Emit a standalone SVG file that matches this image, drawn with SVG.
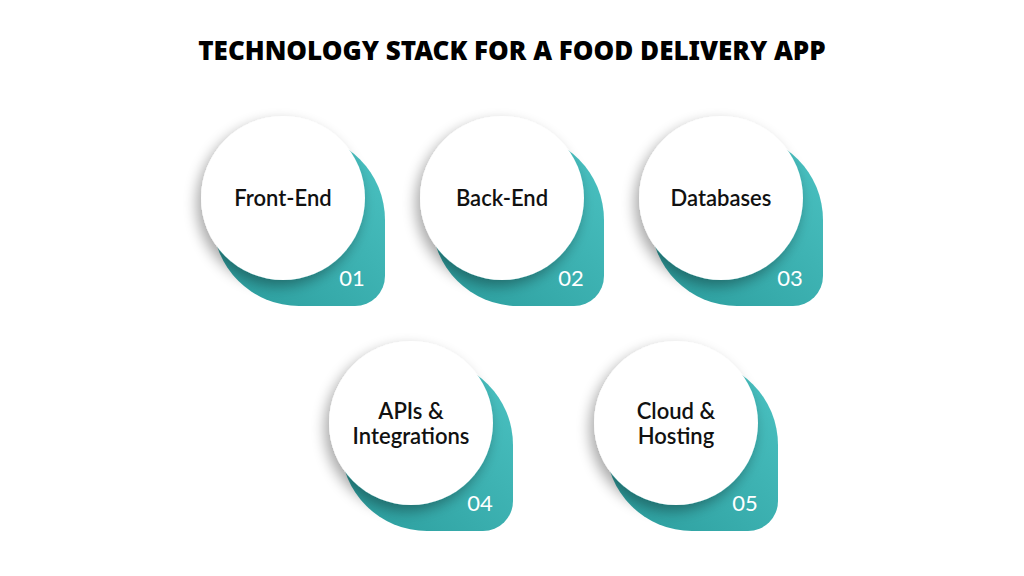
<svg xmlns="http://www.w3.org/2000/svg" width="1024" height="576" viewBox="0 0 1024 576">
<defs>
<filter id="sh" x="-30%" y="-30%" width="160%" height="160%"><feGaussianBlur in="SourceAlpha" stdDeviation="7"/><feOffset dx="-4" dy="6"/><feComponentTransfer><feFuncA type="linear" slope="0.35"/></feComponentTransfer><feMerge><feMergeNode/><feMergeNode in="SourceGraphic"/></feMerge></filter>
<linearGradient id="tg" x1="0" y1="1" x2="1" y2="0"><stop offset="0" stop-color="#2a9c9c"/><stop offset="1" stop-color="#4cc3c3"/></linearGradient>
<path id="tl" d="M-70,22 A86,86 0 0 1 102,22 L102,78 A30,30 0 0 1 72,108 L16,108 A86,86 0 0 1 -70,22 Z"/>
</defs>
<style>
.t{fill:url(#tg)}
.c{fill:#fff}
.l{font-family:"Lato","Noto Sans",sans-serif;font-size:22px;font-weight:600;fill:#111;text-anchor:middle}
.n{font-family:"Lato","Noto Sans",sans-serif;font-size:22px;fill:#fff;text-anchor:middle}
</style>
<rect width="1024" height="576" fill="#fff"/>
<text x="512" y="60" text-anchor="middle" font-family="'Noto Sans','Liberation Sans',sans-serif" font-weight="900" font-size="26" fill="#000">TECHNOLOGY STACK FOR A FOOD DELIVERY APP</text>
<g id="node1" transform="translate(283,198)"><use href="#tl" class="t"/><circle r="82" class="c" filter="url(#sh)"/><text class="l" y="8">Front-End</text><text class="n" x="69" y="88">01</text></g>
<g id="node2" transform="translate(502,198)"><use href="#tl" class="t"/><circle r="82" class="c" filter="url(#sh)"/><text class="l" y="8">Back-End</text><text class="n" x="69" y="88">02</text></g>
<g id="node3" transform="translate(721,198)"><use href="#tl" class="t"/><circle r="82" class="c" filter="url(#sh)"/><text class="l" y="8">Databases</text><text class="n" x="69" y="88">03</text></g>
<g id="node4" transform="translate(411,423)"><use href="#tl" class="t"/><circle r="82" class="c" filter="url(#sh)"/><text class="l" y="-4">APIs &amp;</text><text class="l" y="21">Integrations</text><text class="n" x="69" y="88">04</text></g>
<g id="node5" transform="translate(676,423)"><use href="#tl" class="t"/><circle r="82" class="c" filter="url(#sh)"/><text class="l" y="-4">Cloud &amp;</text><text class="l" y="21">Hosting</text><text class="n" x="69" y="88">05</text></g>
<g id="connectors"/>
</svg>
